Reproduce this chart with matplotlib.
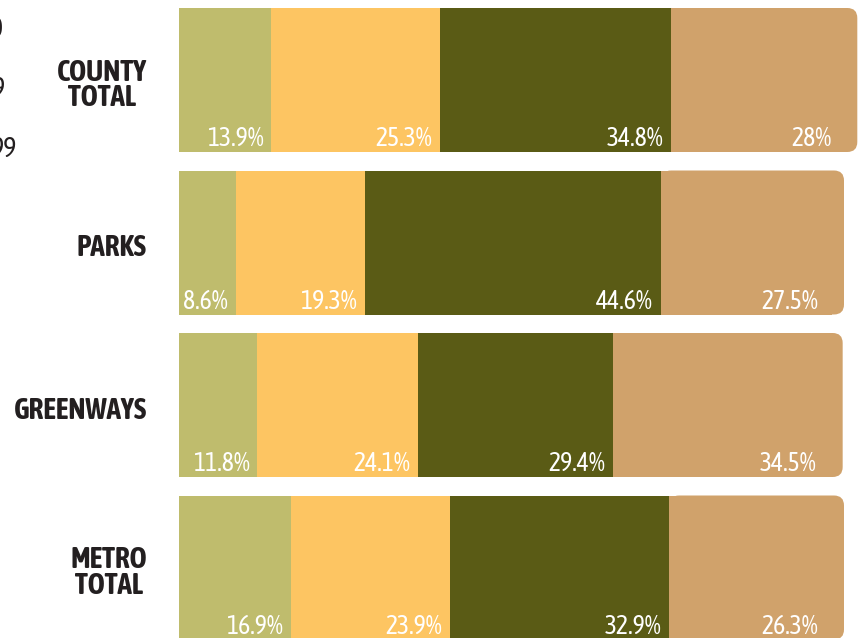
import matplotlib
matplotlib.use("Agg")
import matplotlib.pyplot as plt
from matplotlib.patches import Rectangle, FancyBboxPatch

categories = ["COUNTY\nTOTAL", "PARKS", "GREENWAYS", "METRO\nTOTAL"]
seg1 = [13.9, 8.6, 11.8, 16.9]
seg2 = [25.3, 19.3, 24.1, 23.9]
seg3 = [34.8, 44.6, 29.4, 32.9]
seg4 = [28.0, 27.5, 34.5, 26.3]
seg_labels = [["13.9%", "25.3%", "34.8%", "28%"],
              ["8.6%", "19.3%", "44.6%", "27.5%"],
              ["11.8%", "24.1%", "29.4%", "34.5%"],
              ["16.9%", "23.9%", "32.9%", "26.3%"]]
legend_fragments = ["0", "9", "99"]

colors = ["#BFBC6D", "#FDC562", "#5A5B15", "#D0A26B"]

W, H = 860, 638
fig = plt.figure(figsize=(W / 100, H / 100), dpi=100)
left_px = 179
px_per_unit = 6.65
row_px = 162.5
first_center = 80
ax = fig.add_axes([left_px / W, 0, 1 - left_px / W, 1])
ax.set_xlim(0, (W - left_px) / px_per_unit)
ax.set_ylim((H - first_center) / row_px, -first_center / row_px)
ax.axis("off")

bar_h = 144 / row_px
aspect = (1 / row_px) / (1 / px_per_unit)
r = 10 / px_per_unit

num_font = ["Asap Condensed", "DejaVu Sans"]
for i, cat in enumerate(categories):
    vals = [seg1[i], seg2[i], seg3[i], seg4[i]]
    start = 0.0
    top = i - bar_h / 2
    for j, v in enumerate(vals):
        if j < 3:
            ax.add_patch(Rectangle((start, top), v, bar_h, facecolor=colors[j],
                                   edgecolor="none", linewidth=0))
            pad = 8
        else:
            ax.add_patch(FancyBboxPatch((start, top), v, bar_h,
                                        boxstyle=f"round,pad=0,rounding_size={r}",
                                        mutation_aspect=aspect,
                                        facecolor=colors[j], edgecolor="none", linewidth=0))
            ax.add_patch(Rectangle((start, top), v - r * 1.2, bar_h, facecolor=colors[j],
                                   edgecolor="none", linewidth=0))
            pad = 26
        ax.annotate(seg_labels[i][j], xy=(start + v, top + bar_h),
                    xytext=(-pad, 6), textcoords="offset pixels",
                    ha="right", va="baseline", color="white", fontsize=18.5,
                    family=num_font, annotation_clip=False)
        start += v
    ax.annotate(cat, xy=(0, i), xytext=(-32, -5), textcoords="offset pixels",
                ha="right", va="center", multialignment="center",
                fontsize=21, fontweight="bold", color="#231F20",
                family=num_font, linespacing=0.85, annotation_clip=False)

# clipped legend fragments at far left
frag_pos = [(3, 37), (5, 97), (17, 157)]
for txt, (x, y) in zip(legend_fragments, frag_pos):
    fig.text(x / W, 1 - y / H, txt, ha="right", va="baseline", fontsize=20,
             color="#231F20", family=num_font)

fig.savefig("out.png", dpi=100)
